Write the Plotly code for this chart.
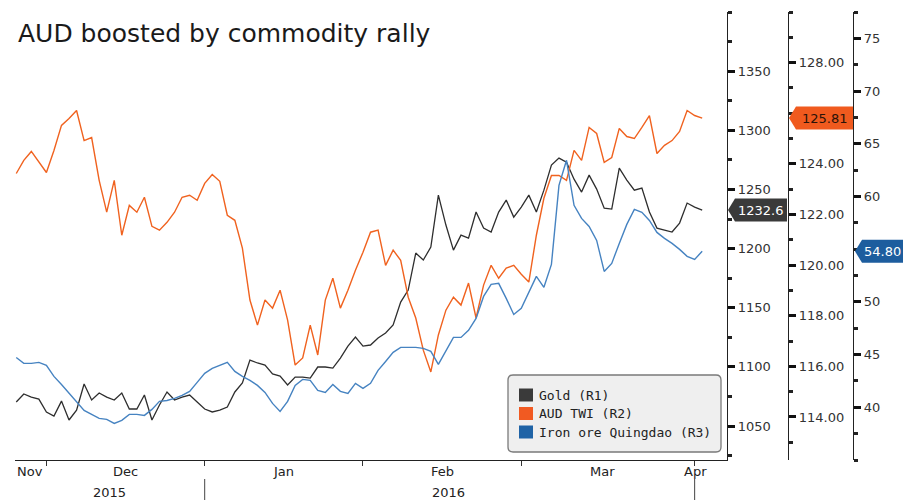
import pandas as pd
import plotly.graph_objects as go

# ---------------- data ----------------
holidays = ["2015-12-25", "2015-12-28"]
dates = [d.strftime("%Y-%m-%d") for d in pd.bdate_range("2015-11-25", "2016-04-04")
         if d.strftime("%Y-%m-%d") not in holidays]

series_names = ["Gold (R1)", "AUD TWI (R2)", "Iron ore Quingdao (R3)"]

gold = [1070.3, 1077.1, 1074.5, 1072.8,
        1061.9, 1058.5, 1071.1, 1055.1,
        1063.5, 1085.5, 1072.0, 1077.9, 1074.5,
        1072.0, 1077.9, 1064.4, 1064.4, 1076.2,
        1055.1, 1067.8, 1078.8, 1072.0,
        1074.5, 1076.2, 1070.3,
        1064.4,
        1061.9, 1063.5, 1066.1, 1078.8, 1086.4,
        1105.8, 1103.3, 1101.6, 1094.0, 1092.3,
        1084.7, 1091.4, 1091.4, 1090.6, 1099.9,
        1099.9, 1099.0, 1107.5, 1117.6, 1125.2,
        1117.6, 1118.5, 1124.4, 1128.6, 1135.4,
        1154.8, 1164.9, 1196.2, 1190.3, 1201.3,
        1245.2, 1219.9, 1198.7, 1211.4, 1208.9,
        1230.9, 1217.3, 1214.0, 1230.9, 1241.0,
        1226.6, 1235.1, 1245.2, 1230.9, 1249.4,
        1270.6, 1276.5, 1273.1, 1258.7, 1247.8,
        1262.1, 1250.3, 1234.2, 1233.4, 1268.0,
        1257.9, 1249.4, 1251.1, 1230.9, 1217.3,
        1215.6, 1214.0, 1221.6, 1238.5, 1235.1,
        1232.6]

aud_twi = [123.62, 124.14, 124.49, 124.06,
           123.66, 124.53, 125.52, 125.79,
           126.11, 124.92, 125.04, 123.35, 122.09,
           123.35, 121.18, 122.36, 122.09, 122.68,
           121.53, 121.38, 121.69, 122.09,
           122.68, 122.76, 122.56,
           123.23,
           123.58, 123.31, 121.97, 121.77, 120.67,
           118.62, 117.63, 118.62, 118.30, 119.01,
           117.83, 116.05, 116.33, 117.63, 116.45,
           118.62, 119.48, 118.30, 119.01, 119.80,
           120.51, 121.30, 121.38, 119.99, 120.59,
           120.19, 118.73, 117.91, 116.64, 115.78,
           117.24, 118.22, 118.73, 118.42, 119.29,
           117.91, 119.21, 119.99, 119.48, 119.88,
           119.99, 119.64, 119.33, 121.18, 122.64,
           123.54, 123.54, 123.35, 124.53, 124.14,
           125.44, 125.20, 124.06, 124.25, 125.40,
           125.08, 125.00, 125.44, 125.91, 124.41,
           124.73, 124.92, 125.28, 126.11, 125.91,
           125.81]

iron_ore = [44.73, 44.17, 44.17, 44.26,
            43.98, 42.93, 42.17, 41.32,
            40.56, 39.71, 39.33, 38.95, 38.85,
            38.47, 38.76, 39.33, 39.33, 39.23,
            39.80, 40.56, 40.65, 40.84,
            41.13, 41.51, 42.36,
            43.22,
            43.69, 43.98, 44.26, 43.41, 42.93,
            42.55, 42.08, 41.41, 40.37, 39.61,
            40.56, 42.08, 42.65, 42.55, 41.60,
            41.41, 42.17, 41.51, 41.32, 42.27,
            41.79, 42.27, 43.50, 44.35, 45.21,
            45.68, 45.68, 45.68, 45.59, 45.30,
            44.07, 45.40, 46.63, 46.63, 47.30,
            48.43, 50.52, 51.66, 51.76, 50.33,
            48.81, 49.38, 50.90, 52.42, 51.38,
            53.56, 61.05, 63.43, 59.16, 57.92,
            57.16, 55.83, 52.89, 53.65, 55.55,
            57.35, 58.78, 58.49, 57.73, 56.59,
            56.02, 55.55, 54.98, 54.32, 54.03,
            54.80]

assert len(dates) == len(gold) == len(aud_twi) == len(iron_ore)

# the 126.00 and 55 labels sit behind the last-value tags
r1_ticks = [1050, 1100, 1150, 1200, 1250, 1300, 1350]
r2_ticks = [114, 116, 118, 120, 122, 124, 128]
r3_ticks = [40, 45, 50, 60, 65, 70, 75]

month_starts = ["2015-12-01", "2016-01-01", "2016-02-01", "2016-03-01", "2016-04-01"]
month_labels = [("Nov", "2015-11-26 19:00"), ("Dec", "2015-12-15 12:00"),
                ("Jan", "2016-01-15 12:00"), ("Feb", "2016-02-15 12:00"),
                ("Mar", "2016-03-15 20:00"), ("Apr", "2016-04-01 04:00")]
year_labels = [("2015", "2015-12-11 10:00"), ("2016", "2016-02-16 07:00")]
year_breaks = ["2016-01-01", "2016-04-01"]

# ---------------- styling ----------------
W, H = 903, 500
ML, MR, MT, MB = 15, 0, 12, 40
PW, PH = W - ML - MR, H - MT - MB

C_GOLD, C_AUD, C_IRON = "#2e2e2e", "#f0621f", "#4683c1"
TAG_GOLD, TAG_AUD, TAG_IRON = "#3a3a3a", "#f05a1e", "#1d5d9e"
SW_GOLD, SW_AUD, SW_IRON = "#3a3a3a", "#f15a22", "#1f63a6"

R1 = [1021.3, 1400.0]
R2 = [112.3, 130.0]
R3 = [35.0, 77.5]

FONT = "DejaVu Sans"
TXT = "#222222"


def px_x(px):
    return (px - ML) / PW


def px_y(py):
    return 1 - (py - MT) / PH


fig = go.Figure()
fig.add_trace(go.Scatter(x=dates, y=gold, name=series_names[0], mode="lines",
                         line=dict(color=C_GOLD, width=1.3), yaxis="y"))
fig.add_trace(go.Scatter(x=dates, y=aud_twi, name=series_names[1], mode="lines",
                         line=dict(color=C_AUD, width=1.4), yaxis="y2"))
fig.add_trace(go.Scatter(x=dates, y=iron_ore, name=series_names[2], mode="lines",
                         line=dict(color=C_IRON, width=1.4), yaxis="y3"))

common_y = dict(showgrid=False, zeroline=False, showline=True, linecolor="#222222",
                linewidth=1.3, ticks="outside", ticklen=7, tickwidth=2.5,
                tickcolor="#111111", tickfont=dict(family=FONT, size=13, color="#333333"),
                side="right", fixedrange=True)

fig.update_layout(
    width=W, height=H, margin=dict(l=ML, r=MR, t=MT, b=MB),
    paper_bgcolor="white", plot_bgcolor="white", showlegend=False,
    xaxis=dict(domain=[0, px_x(727)], type="date",
               range=["2015-11-24 20:00", "2016-04-07 07:00"],
               rangebreaks=[dict(bounds=["sat", "mon"]), dict(values=holidays)],
               tickmode="array", tickvals=month_starts, showticklabels=False,
               ticks="outside", ticklen=5, tickcolor="#333333", showgrid=False,
               showline=True, linecolor="#222222", linewidth=1.3, zeroline=False),
    yaxis=dict(range=R1, tickmode="array", tickvals=r1_ticks, anchor="x",
               minor=dict(tickmode="linear", tick0=1000, dtick=25, ticks="outside",
                          ticklen=4, tickcolor="#222222"),
               **common_y),
    yaxis2=dict(range=R2, tickmode="array", tickvals=r2_ticks, tickformat=".2f",
                overlaying="y", anchor="free", position=px_x(788),
                minor=dict(tickmode="linear", tick0=112, dtick=1, ticks="outside",
                           ticklen=4, tickcolor="#222222"),
                **common_y),
    yaxis3=dict(range=R3, tickmode="array", tickvals=r3_ticks,
                overlaying="y", anchor="free", position=px_x(853),
                minor=dict(tickmode="linear", tick0=35, dtick=2.5, ticks="outside",
                           ticklen=4, tickcolor="#222222"),
                **common_y),
)

shapes = []
annotations = []

# title
annotations.append(dict(text="AUD boosted by commodity rally", xref="paper", yref="paper",
                        x=px_x(16), y=px_y(33), xanchor="left", yanchor="middle",
                        showarrow=False, font=dict(family=FONT, size=25, color="#1a1a1a")))

# month and year labels under the time axis
for lab, pos in month_labels:
    annotations.append(dict(text=lab, xref="x", yref="paper", x=pos, y=px_y(471),
                            xanchor="center", yanchor="middle", showarrow=False,
                            font=dict(family=FONT, size=13, color=TXT)))
for lab, pos in year_labels:
    annotations.append(dict(text=lab, xref="x", yref="paper", x=pos, y=px_y(492),
                            xanchor="center", yanchor="middle", showarrow=False,
                            font=dict(family=FONT, size=13, color=TXT)))
for d in year_breaks:
    shapes.append(dict(type="line", xref="x", yref="paper", x0=d, x1=d,
                       y0=px_y(479), y1=px_y(500), line=dict(color="#444444", width=1)))


# last-value tags on each right axis
def value_tag(value, label, yref, rng, tip_px, right_px, fill, txt_color):
    half = 11.5 * (rng[1] - rng[0]) / PH
    x0, x1, x2 = px_x(tip_px), px_x(tip_px + 7), px_x(right_px)
    path = (f"M {x0},{value} L {x1},{value + half} L {x2},{value + half} "
            f"L {x2},{value - half} L {x1},{value - half} Z")
    shapes.append(dict(type="path", path=path, xref="paper", yref=yref,
                       fillcolor=fill, line=dict(width=0), layer="above"))
    annotations.append(dict(text=label, xref="paper", yref=yref,
                            x=(x1 + x2) / 2, y=value, xanchor="center", yanchor="middle",
                            showarrow=False, font=dict(family=FONT, size=13, color=txt_color)))


value_tag(gold[-1], f"{gold[-1]:.1f}", "y", R1, 728, 787, TAG_GOLD, "white")
value_tag(aud_twi[-1], f"{aud_twi[-1]:.2f}", "y2", R2, 789, 853, TAG_AUD, "#2a1208")
value_tag(iron_ore[-1], f"{iron_ore[-1]:.2f}", "y3", R3, 855, 903, TAG_IRON, "white")

# legend box
bx0, bx1, by0, by1, rr = px_x(508), px_x(721), px_y(375), px_y(452), 5
rx, ry = rr / PW, rr / PH
box = (f"M {bx0 + rx},{by0} L {bx1 - rx},{by0} Q {bx1},{by0} {bx1},{by0 - ry} "
       f"L {bx1},{by1 + ry} Q {bx1},{by1} {bx1 - rx},{by1} "
       f"L {bx0 + rx},{by1} Q {bx0},{by1} {bx0},{by1 + ry} "
       f"L {bx0},{by0 - ry} Q {bx0},{by0} {bx0 + rx},{by0} Z")
shapes.append(dict(type="path", path=box, xref="paper", yref="paper",
                   fillcolor="#efefef", line=dict(color="#7a7a7a", width=1.3), layer="above"))
for name, col, row_y in zip(series_names, [SW_GOLD, SW_AUD, SW_IRON], [395, 413.5, 432]):
    shapes.append(dict(type="rect", xref="paper", yref="paper",
                       x0=px_x(519), x1=px_x(533), y0=px_y(row_y - 6.5), y1=px_y(row_y + 6.5),
                       fillcolor=col, line=dict(width=0), layer="above"))
    annotations.append(dict(text=name, xref="paper", yref="paper", x=px_x(537), y=px_y(row_y),
                            xanchor="left", yanchor="middle", showarrow=False,
                            font=dict(family="DejaVu Sans Mono", size=13, color=TXT)))

fig.update_layout(shapes=shapes, annotations=annotations)
fig.write_html("out.html")
